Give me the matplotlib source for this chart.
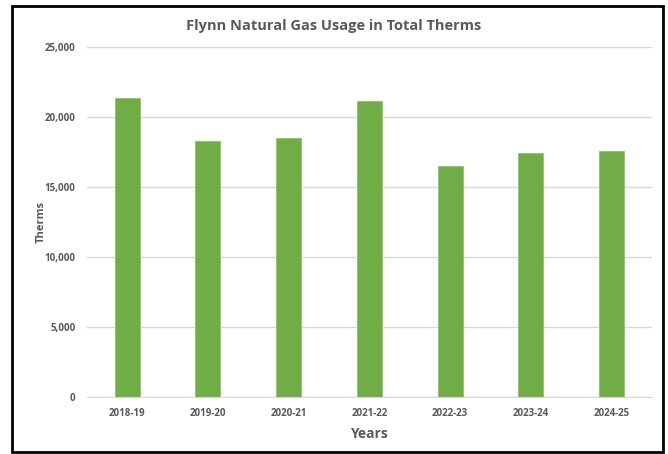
import matplotlib
matplotlib.use('Agg')
import matplotlib.pyplot as plt
from matplotlib.patches import Rectangle
from matplotlib.ticker import FuncFormatter

# Data
years = ['2018-19', '2019-20', '2020-21', '2021-22', '2022-23', '2023-24', '2024-25']
therms = [21350, 18250, 18500, 21150, 16500, 17450, 17550]

bar_color = '#70AD47'
text_color = '#595959'
grid_color = '#D9D9D9'

plt.rcParams['font.family'] = ['Open Sans', 'DejaVu Sans']

fig = plt.figure(figsize=(6.68, 4.54), dpi=100)
ax = fig.add_axes([0.130, 0.1256, 0.846, 0.771])

x = range(len(years))
ax.bar(x, therms, width=0.31, color=bar_color, edgecolor='#8CC56A', linewidth=0.6, zorder=3)

ax.set_xlim(-0.5, len(years) - 0.5)
ax.set_ylim(0, 25000)
ax.set_yticks(range(0, 25001, 5000))
ax.yaxis.set_major_formatter(FuncFormatter(lambda v, p: f'{int(v):,}'))
ax.set_xticks(list(x))
ax.set_xticklabels(years)

ax.tick_params(axis='both', length=0, labelsize=7, colors=text_color, pad=8)
for lbl in ax.get_xticklabels() + ax.get_yticklabels():
    lbl.set_fontweight('bold')

ax.grid(axis='y', color=grid_color, linewidth=1, zorder=0)
for side in ['top', 'right', 'left']:
    ax.spines[side].set_visible(False)
ax.spines['bottom'].set_color(grid_color)

ax.set_xlabel('Years', fontsize=10, fontweight='bold', color=text_color, labelpad=6)
ax.set_ylabel('Therms', fontsize=8, fontweight='bold', color=text_color)
ax.yaxis.set_label_coords(-0.071, 0.5)
fig.text(0.5, 0.942, 'Flynn Natural Gas Usage in Total Therms', ha='center', va='center',
         fontsize=10.5, fontweight='bold', color=text_color)

# outer frame
fig.patches.append(Rectangle((12 / 668, 2 / 454), 651 / 668, 446 / 454, transform=fig.transFigure,
                             fill=False, edgecolor='black', linewidth=2))

plt.savefig('out.png', dpi=100)
plt.close()
